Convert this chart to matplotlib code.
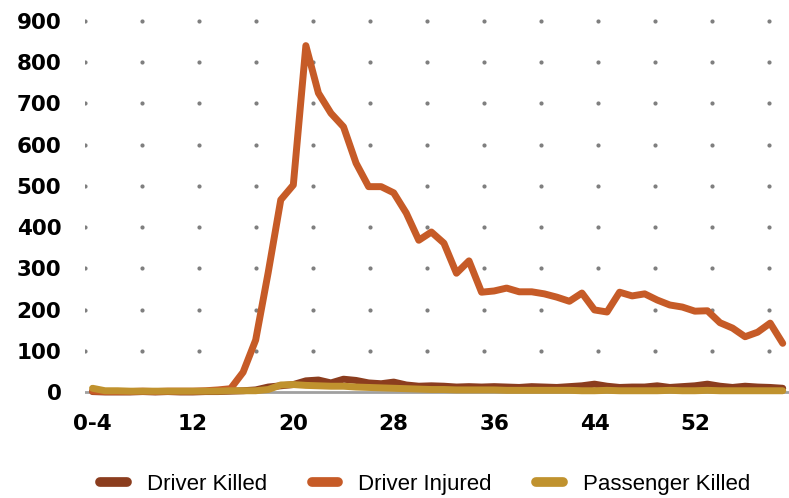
import numpy as np
import matplotlib
matplotlib.use('Agg')
import matplotlib.pyplot as plt

# Age categories: "0-4" then single years 5..59
ages = ['0-4'] + [str(a) for a in range(5, 60)]
tick_labels = ['0-4', '12', '20', '28', '36', '44', '52']

driver_injured = [2, 1, 1, 1, 2, 1, 2, 2, 2, 3, 5, 8, 48, 126, 290, 466, 502, 840, 725, 676,
                  643, 555, 498, 498, 483, 434, 368, 388, 361, 288, 318, 242, 245, 252, 243, 243,
                  238, 230, 220, 240, 199, 194, 242, 233, 238, 223, 211, 206, 196, 197, 168, 155,
                  134, 145, 167, 118]
driver_killed = [1, 0, 0, 0, 1, 0, 1, 0, 0, 1, 1, 2, 3, 5, 12, 15, 18, 27, 29, 22,
                 31, 28, 22, 20, 24, 17, 14, 15, 14, 12, 13, 12, 13, 12, 11, 13,
                 12, 11, 13, 15, 19, 14, 11, 12, 12, 15, 11, 13, 15, 19, 14, 11,
                 14, 12, 11, 9]
passenger_killed = [9, 3, 3, 2, 2, 2, 2, 2, 2, 2, 2, 3, 3, 3, 6, 17, 18, 16, 15, 14,
                    14, 12, 11, 10, 9, 8, 7, 6, 6, 5, 5, 5, 5, 4, 4, 4,
                    4, 4, 4, 3, 3, 4, 3, 3, 3, 3, 4, 3, 3, 4, 3, 3,
                    3, 3, 3, 3]

y_ticks = [0, 100, 200, 300, 400, 500, 600, 700, 800, 900]

c_killed = '#8b3d1e'
c_injured = '#c65b27'
c_pass = '#c0922e'

fig = plt.figure(figsize=(7.89, 4.98), dpi=100)
ax = fig.add_axes([85 / 789, 0.2046, 704 / 789, 0.770])

x = np.arange(len(ages))

# dotted background grid
gx = -0.6 + 4.54 * np.arange(13)
GX, GY = np.meshgrid(gx, y_ticks[1:])
ax.scatter(GX.ravel(), GY.ravel(), s=9, color='#7f7f7f', linewidths=0, zorder=1)
ax.axhline(0, color='#a0a0a0', lw=2, zorder=2)

ax.plot(x, driver_killed, color=c_killed, lw=5, solid_capstyle='round',
        solid_joinstyle='round', label='Driver Killed', zorder=3, clip_on=False)
ax.plot(x, driver_injured, color=c_injured, lw=5, solid_capstyle='round',
        solid_joinstyle='round', label='Driver Injured', zorder=4, clip_on=False)
ax.plot(x, passenger_killed, color=c_pass, lw=5, solid_capstyle='round',
        solid_joinstyle='round', label='Passenger Killed', zorder=5, clip_on=False)

ax.set_xlim(-0.6, 55.5)
ax.set_ylim(-10, 920)
ax.set_yticks(y_ticks)
ax.set_yticklabels([str(v) for v in y_ticks])
ax.set_xticks([ages.index(t) for t in tick_labels])
ax.set_xticklabels(tick_labels)
for lab in ax.get_xticklabels() + ax.get_yticklabels():
    lab.set_fontfamily('DejaVu Sans')
    lab.set_fontweight('bold')
    lab.set_fontsize(15.5)
ax.tick_params(axis='both', length=0)
ax.tick_params(axis='y', pad=17)
ax.tick_params(axis='x', pad=13)
for s in ax.spines.values():
    s.set_visible(False)

leg = fig.legend(loc='center', bbox_to_anchor=(0.539, 1 - 484 / 498), ncol=3,
                 frameon=False, handlelength=1.2, handletextpad=0.9, columnspacing=2.0,
                 prop={'family': ['Liberation Sans', 'DejaVu Sans'], 'size': 16})
for h in leg.get_lines():
    h.set_linewidth(7)
    h.set_solid_capstyle('round')

fig.savefig('out.png', dpi=100)
